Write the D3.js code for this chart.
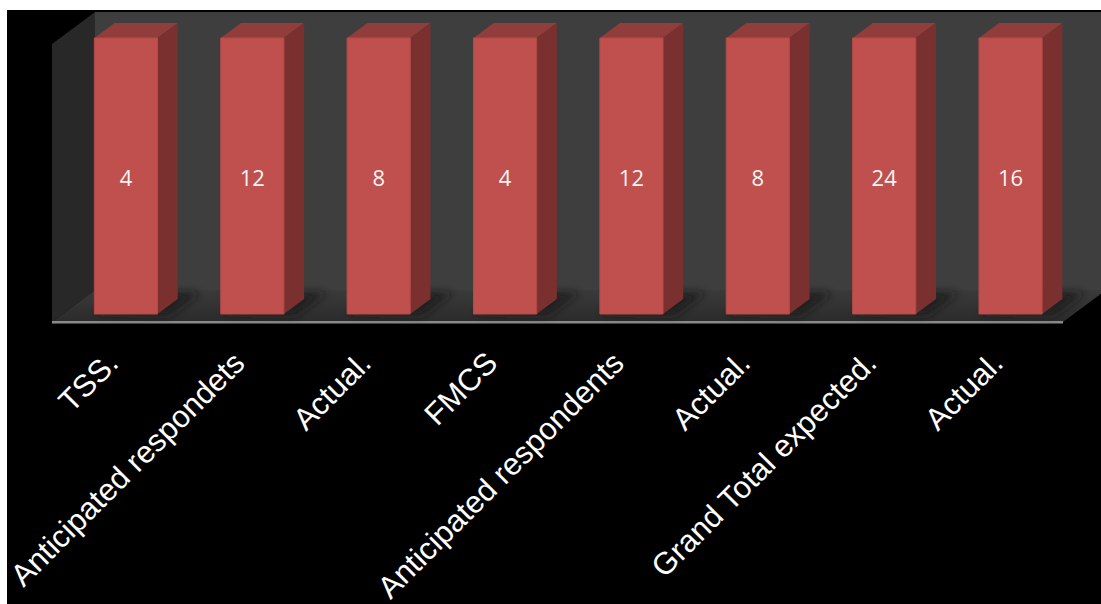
<!DOCTYPE html>
<html>
<head>
<meta charset="utf-8">
<script src="https://cdn.jsdelivr.net/npm/d3@7"></script>
<style>
  html, body { margin: 0; padding: 0; background: #ffffff; }
  svg { display: block; }
</style>
</head>
<body>
<svg id="chart" width="1101" height="604"></svg>
<script>
// Survey respondents: expected vs actual counts per group
const categories = ["TSS.", "Anticipated respondets", "Actual.", "FMCS",
                    "Anticipated respondents", "Actual.", "Grand Total expected.", "Actual."];
const values = [4, 12, 8, 4, 12, 8, 24, 16];

const W = 1101, H = 604;
const svg = d3.select("#chart");

// Front plane of the 3D plot box, and the depth offset of the back plane
const left = 52, right = 1063, floorY = 322;
const DX = 43, DY = 32;
const P = (x, y, z) => [x + z * DX, y - z * DY];
const pts = arr => arr.map(p => p.join(",")).join(" ");

// 100% stacked column: every column fills the full height, value shown as label
const rows = values.map(v => ({ count: v }));
const series = d3.stack().keys(["count"]).offset(d3.stackOffsetExpand)(rows);

const x = d3.scaleBand()
  .domain(d3.range(categories.length))
  .range([left, right])
  .paddingInner(0.5)
  .paddingOuter(0.25);

const y = d3.scaleLinear().domain([0, 1]).range([floorY, 46]);

// Outer frame
svg.append("rect").attr("x", 7).attr("y", 10).attr("width", W - 7).attr("height", H - 10)
  .attr("fill", "#000000");

const defs = svg.append("defs");
const fg = defs.append("linearGradient").attr("id", "floorGrad")
  .attr("x1", 0).attr("y1", 0).attr("x2", 0).attr("y2", 1);
fg.append("stop").attr("offset", "0%").attr("stop-color", "#3a3a3a");
fg.append("stop").attr("offset", "100%").attr("stop-color", "#2b2b2b");
defs.append("filter").attr("id", "soft").attr("x", "-50%").attr("y", "-50%")
  .attr("width", "200%").attr("height", "200%")
  .append("feGaussianBlur").attr("stdDeviation", 4);
const clip = defs.append("clipPath").attr("id", "plotClip");
clip.append("rect").attr("x", 7).attr("y", 11).attr("width", W - 7).attr("height", H - 11);

const box = svg.append("g").attr("clip-path", "url(#plotClip)");
const wallTop = y(1) - 2;

// Back wall
box.append("polygon")
  .attr("points", pts([P(left, wallTop, 1), P(right + 60, wallTop, 1), P(right + 60, floorY, 1), P(left, floorY, 1)]))
  .attr("fill", "#3e3e3e");

// Left side wall
box.append("polygon")
  .attr("points", pts([P(left, wallTop, 0), P(left, wallTop, 1), P(left, floorY, 1), P(left, floorY, 0)]))
  .attr("fill", "#282828");

// Floor
box.append("polygon")
  .attr("points", pts([P(left, floorY, 0), P(right, floorY, 0), P(right, floorY, 1), P(left, floorY, 1)]))
  .attr("fill", "url(#floorGrad)");

// Front edge of the floor
box.append("polygon")
  .attr("points", pts([[left, floorY - 1], [right, floorY - 1], [right, floorY + 1.5], [left, floorY + 1.5]]))
  .attr("fill", "#8a8a8a");

const z0 = 0.25, z1 = 0.72;
const bw = x.bandwidth();
const data = series[0].map((d, i) => ({ i, lo: d[0], hi: d[1], value: values[i] }));

// Soft shadows cast on the floor
box.append("g").attr("filter", "url(#soft)")
  .selectAll("polygon").data(data).join("polygon")
  .attr("points", d => {
    const x0 = x(d.i), x1 = x0 + bw;
    return pts([P(x0, floorY, z0), P(x1 + 14, floorY, z0 - 0.05), P(x1 + 14, floorY, z1 + 0.2), P(x0, floorY, z1 + 0.2)]);
  })
  .attr("fill", "#1c1c1c").attr("opacity", 0.8);

const bars = box.append("g").selectAll("g").data(data).join("g");

// Top face
bars.append("polygon")
  .attr("points", d => {
    const x0 = x(d.i), x1 = x0 + bw, yt = y(d.hi);
    return pts([P(x0, yt, z0), P(x0, yt, z1), P(x1, yt, z1), P(x1, yt, z0)]);
  })
  .attr("fill", "#913d3b");

// Right side face
bars.append("polygon")
  .attr("points", d => {
    const x1 = x(d.i) + bw, yt = y(d.hi), yb = y(d.lo);
    return pts([P(x1, yt, z0), P(x1, yt, z1), P(x1, yb, z1), P(x1, yb, z0)]);
  })
  .attr("fill", "#7a302e");

// Front face
bars.append("polygon")
  .attr("points", d => {
    const x0 = x(d.i), x1 = x0 + bw, yt = y(d.hi), yb = y(d.lo);
    return pts([P(x0, yt, z0), P(x1, yt, z0), P(x1, yb, z0), P(x0, yb, z0)]);
  })
  .attr("fill", "#c0504d")
  .attr("stroke", "#b54a47").attr("stroke-width", 1);

// Value labels in the middle of each column
bars.append("text")
  .attr("x", d => P(x(d.i) + bw / 2, 0, z0)[0])
  .attr("y", d => P(0, y((d.lo + d.hi) / 2), z0)[1] + 1)
  .attr("text-anchor", "middle")
  .attr("dominant-baseline", "central")
  .attr("font-family", "'Open Sans', sans-serif")
  .attr("font-size", 22)
  .attr("fill", "#f4f4f4")
  .text(d => d.value);

// Category axis along the front edge
const axis = svg.append("g")
  .attr("transform", `translate(0,${floorY})`)
  .call(d3.axisBottom(x).tickSize(0).tickFormat(i => categories[i]));
axis.select(".domain").remove();
axis.selectAll("text")
  .attr("x", 0).attr("y", 0).attr("dy", 0)
  .attr("transform", "translate(5,43) rotate(-45)")
  .attr("text-anchor", "end")
  .attr("font-family", "'Liberation Sans', Arial, sans-serif")
  .attr("font-size", 31)
  .attr("fill", "#ffffff");
</script>
</body>
</html>
